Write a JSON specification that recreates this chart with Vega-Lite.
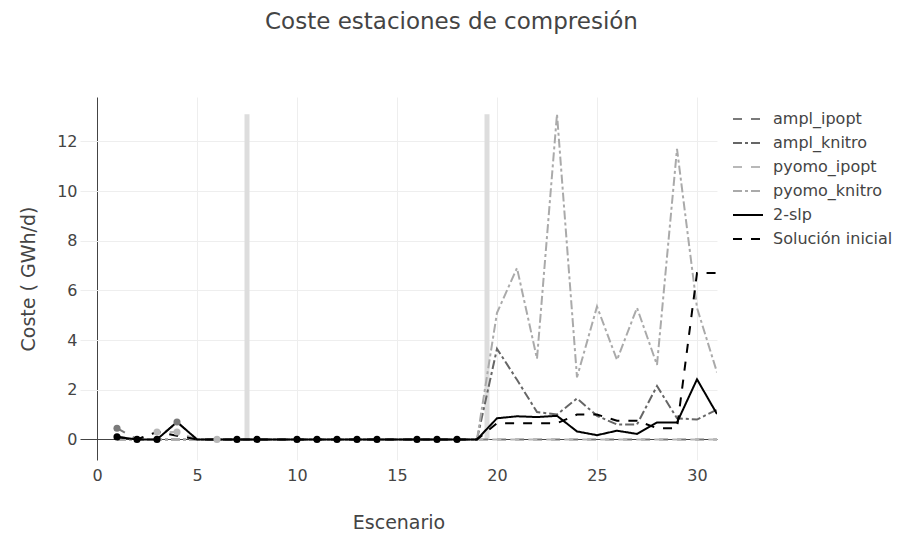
{
  "$schema": "https://vega.github.io/schema/vega-lite/v6.json",
  "width": 637,
  "height": 363,
  "autosize": {"type": "none"},
  "padding": {"left": 80, "top": 97, "right": 187, "bottom": 78},
  "background": "white",
  "config": {
    "font": "DejaVu Sans",
    "view": {"stroke": null},
    "legend": {
      "orient": "none",
      "legendX": 652,
      "legendY": 6,
      "padding": 0,
      "symbolType": "stroke",
      "symbolSize": 900,
      "labelFont": "DejaVu Sans",
      "labelFontSize": 16,
      "labelColor": "#444",
      "labelOffset": 9,
      "rowPadding": -7,
      "title": null
    }
  },
  "title": {
    "text": "Coste estaciones de compresión",
    "font": "DejaVu Sans",
    "fontSize": 23,
    "fontWeight": "normal",
    "color": "#444",
    "anchor": "middle",
    "dx": 53,
    "offset": 63
  },
  "datasets": {
    "bars": [
      {"Escenario": 7.5, "base": 0, "top": 13.1},
      {"Escenario": 19.5, "base": 0, "top": 13.1}
    ],
    "lines": [
      {"Escenario": 1, "serie": "ampl_ipopt", "Coste": 0.45},
      {"Escenario": 2, "serie": "ampl_ipopt", "Coste": 0},
      {"Escenario": 3, "serie": "ampl_ipopt", "Coste": 0},
      {"Escenario": 4, "serie": "ampl_ipopt", "Coste": 0.7},
      {"Escenario": 5, "serie": "ampl_ipopt", "Coste": 0},
      {"Escenario": 6, "serie": "ampl_ipopt", "Coste": 0},
      {"Escenario": 7, "serie": "ampl_ipopt", "Coste": 0},
      {"Escenario": 8, "serie": "ampl_ipopt", "Coste": 0},
      {"Escenario": 9, "serie": "ampl_ipopt", "Coste": 0},
      {"Escenario": 10, "serie": "ampl_ipopt", "Coste": 0},
      {"Escenario": 11, "serie": "ampl_ipopt", "Coste": 0},
      {"Escenario": 12, "serie": "ampl_ipopt", "Coste": 0},
      {"Escenario": 13, "serie": "ampl_ipopt", "Coste": 0},
      {"Escenario": 14, "serie": "ampl_ipopt", "Coste": 0},
      {"Escenario": 15, "serie": "ampl_ipopt", "Coste": 0},
      {"Escenario": 16, "serie": "ampl_ipopt", "Coste": 0},
      {"Escenario": 17, "serie": "ampl_ipopt", "Coste": 0},
      {"Escenario": 18, "serie": "ampl_ipopt", "Coste": 0},
      {"Escenario": 19, "serie": "ampl_ipopt", "Coste": 0},
      {"Escenario": 20, "serie": "ampl_ipopt", "Coste": 0},
      {"Escenario": 21, "serie": "ampl_ipopt", "Coste": 0},
      {"Escenario": 22, "serie": "ampl_ipopt", "Coste": 0},
      {"Escenario": 23, "serie": "ampl_ipopt", "Coste": 0},
      {"Escenario": 24, "serie": "ampl_ipopt", "Coste": 0},
      {"Escenario": 25, "serie": "ampl_ipopt", "Coste": 0},
      {"Escenario": 26, "serie": "ampl_ipopt", "Coste": 0},
      {"Escenario": 27, "serie": "ampl_ipopt", "Coste": 0},
      {"Escenario": 28, "serie": "ampl_ipopt", "Coste": 0},
      {"Escenario": 29, "serie": "ampl_ipopt", "Coste": 0},
      {"Escenario": 30, "serie": "ampl_ipopt", "Coste": 0},
      {"Escenario": 31, "serie": "ampl_ipopt", "Coste": 0},
      {"Escenario": 1, "serie": "ampl_knitro", "Coste": 0},
      {"Escenario": 2, "serie": "ampl_knitro", "Coste": 0},
      {"Escenario": 3, "serie": "ampl_knitro", "Coste": 0},
      {"Escenario": 4, "serie": "ampl_knitro", "Coste": 0},
      {"Escenario": 5, "serie": "ampl_knitro", "Coste": 0},
      {"Escenario": 6, "serie": "ampl_knitro", "Coste": 0},
      {"Escenario": 7, "serie": "ampl_knitro", "Coste": 0},
      {"Escenario": 8, "serie": "ampl_knitro", "Coste": 0},
      {"Escenario": 9, "serie": "ampl_knitro", "Coste": 0},
      {"Escenario": 10, "serie": "ampl_knitro", "Coste": 0},
      {"Escenario": 11, "serie": "ampl_knitro", "Coste": 0},
      {"Escenario": 12, "serie": "ampl_knitro", "Coste": 0},
      {"Escenario": 13, "serie": "ampl_knitro", "Coste": 0},
      {"Escenario": 14, "serie": "ampl_knitro", "Coste": 0},
      {"Escenario": 15, "serie": "ampl_knitro", "Coste": 0},
      {"Escenario": 16, "serie": "ampl_knitro", "Coste": 0},
      {"Escenario": 17, "serie": "ampl_knitro", "Coste": 0},
      {"Escenario": 18, "serie": "ampl_knitro", "Coste": 0},
      {"Escenario": 19, "serie": "ampl_knitro", "Coste": 0},
      {"Escenario": 20, "serie": "ampl_knitro", "Coste": 3.65},
      {"Escenario": 21, "serie": "ampl_knitro", "Coste": 2.4},
      {"Escenario": 22, "serie": "ampl_knitro", "Coste": 1.1},
      {"Escenario": 23, "serie": "ampl_knitro", "Coste": 1.0},
      {"Escenario": 24, "serie": "ampl_knitro", "Coste": 1.65},
      {"Escenario": 25, "serie": "ampl_knitro", "Coste": 0.95},
      {"Escenario": 26, "serie": "ampl_knitro", "Coste": 0.6},
      {"Escenario": 27, "serie": "ampl_knitro", "Coste": 0.6},
      {"Escenario": 28, "serie": "ampl_knitro", "Coste": 2.15},
      {"Escenario": 29, "serie": "ampl_knitro", "Coste": 0.85},
      {"Escenario": 30, "serie": "ampl_knitro", "Coste": 0.8},
      {"Escenario": 31, "serie": "ampl_knitro", "Coste": 1.2},
      {"Escenario": 1, "serie": "pyomo_ipopt", "Coste": 0},
      {"Escenario": 2, "serie": "pyomo_ipopt", "Coste": 0},
      {"Escenario": 3, "serie": "pyomo_ipopt", "Coste": 0.3},
      {"Escenario": 4, "serie": "pyomo_ipopt", "Coste": 0.3},
      {"Escenario": 5, "serie": "pyomo_ipopt", "Coste": 0},
      {"Escenario": 6, "serie": "pyomo_ipopt", "Coste": 0},
      {"Escenario": 7, "serie": "pyomo_ipopt", "Coste": 0},
      {"Escenario": 8, "serie": "pyomo_ipopt", "Coste": 0},
      {"Escenario": 9, "serie": "pyomo_ipopt", "Coste": 0},
      {"Escenario": 10, "serie": "pyomo_ipopt", "Coste": 0},
      {"Escenario": 11, "serie": "pyomo_ipopt", "Coste": 0},
      {"Escenario": 12, "serie": "pyomo_ipopt", "Coste": 0},
      {"Escenario": 13, "serie": "pyomo_ipopt", "Coste": 0},
      {"Escenario": 14, "serie": "pyomo_ipopt", "Coste": 0},
      {"Escenario": 15, "serie": "pyomo_ipopt", "Coste": 0},
      {"Escenario": 16, "serie": "pyomo_ipopt", "Coste": 0},
      {"Escenario": 17, "serie": "pyomo_ipopt", "Coste": 0},
      {"Escenario": 18, "serie": "pyomo_ipopt", "Coste": 0},
      {"Escenario": 19, "serie": "pyomo_ipopt", "Coste": 0},
      {"Escenario": 20, "serie": "pyomo_ipopt", "Coste": 0},
      {"Escenario": 21, "serie": "pyomo_ipopt", "Coste": 0},
      {"Escenario": 22, "serie": "pyomo_ipopt", "Coste": 0},
      {"Escenario": 23, "serie": "pyomo_ipopt", "Coste": 0},
      {"Escenario": 24, "serie": "pyomo_ipopt", "Coste": 0},
      {"Escenario": 25, "serie": "pyomo_ipopt", "Coste": 0},
      {"Escenario": 26, "serie": "pyomo_ipopt", "Coste": 0},
      {"Escenario": 27, "serie": "pyomo_ipopt", "Coste": 0},
      {"Escenario": 28, "serie": "pyomo_ipopt", "Coste": 0},
      {"Escenario": 29, "serie": "pyomo_ipopt", "Coste": 0},
      {"Escenario": 30, "serie": "pyomo_ipopt", "Coste": 0},
      {"Escenario": 31, "serie": "pyomo_ipopt", "Coste": 0},
      {"Escenario": 1, "serie": "pyomo_knitro", "Coste": 0},
      {"Escenario": 2, "serie": "pyomo_knitro", "Coste": 0},
      {"Escenario": 3, "serie": "pyomo_knitro", "Coste": 0},
      {"Escenario": 4, "serie": "pyomo_knitro", "Coste": 0},
      {"Escenario": 5, "serie": "pyomo_knitro", "Coste": 0},
      {"Escenario": 6, "serie": "pyomo_knitro", "Coste": 0},
      {"Escenario": 7, "serie": "pyomo_knitro", "Coste": 0},
      {"Escenario": 8, "serie": "pyomo_knitro", "Coste": 0},
      {"Escenario": 9, "serie": "pyomo_knitro", "Coste": 0},
      {"Escenario": 10, "serie": "pyomo_knitro", "Coste": 0},
      {"Escenario": 11, "serie": "pyomo_knitro", "Coste": 0},
      {"Escenario": 12, "serie": "pyomo_knitro", "Coste": 0},
      {"Escenario": 13, "serie": "pyomo_knitro", "Coste": 0},
      {"Escenario": 14, "serie": "pyomo_knitro", "Coste": 0},
      {"Escenario": 15, "serie": "pyomo_knitro", "Coste": 0},
      {"Escenario": 16, "serie": "pyomo_knitro", "Coste": 0},
      {"Escenario": 17, "serie": "pyomo_knitro", "Coste": 0},
      {"Escenario": 18, "serie": "pyomo_knitro", "Coste": 0},
      {"Escenario": 19, "serie": "pyomo_knitro", "Coste": 0},
      {"Escenario": 20, "serie": "pyomo_knitro", "Coste": 5.1},
      {"Escenario": 21, "serie": "pyomo_knitro", "Coste": 6.9},
      {"Escenario": 22, "serie": "pyomo_knitro", "Coste": 3.25},
      {"Escenario": 23, "serie": "pyomo_knitro", "Coste": 13.1},
      {"Escenario": 24, "serie": "pyomo_knitro", "Coste": 2.5},
      {"Escenario": 25, "serie": "pyomo_knitro", "Coste": 5.35},
      {"Escenario": 26, "serie": "pyomo_knitro", "Coste": 3.2},
      {"Escenario": 27, "serie": "pyomo_knitro", "Coste": 5.3},
      {"Escenario": 28, "serie": "pyomo_knitro", "Coste": 3.0},
      {"Escenario": 29, "serie": "pyomo_knitro", "Coste": 11.7},
      {"Escenario": 30, "serie": "pyomo_knitro", "Coste": 5.3},
      {"Escenario": 31, "serie": "pyomo_knitro", "Coste": 2.7},
      {"Escenario": 1, "serie": "2-slp", "Coste": 0.1},
      {"Escenario": 2, "serie": "2-slp", "Coste": 0},
      {"Escenario": 3, "serie": "2-slp", "Coste": 0},
      {"Escenario": 4, "serie": "2-slp", "Coste": 0.7},
      {"Escenario": 5, "serie": "2-slp", "Coste": 0},
      {"Escenario": 6, "serie": "2-slp", "Coste": 0},
      {"Escenario": 7, "serie": "2-slp", "Coste": 0},
      {"Escenario": 8, "serie": "2-slp", "Coste": 0},
      {"Escenario": 9, "serie": "2-slp", "Coste": 0},
      {"Escenario": 10, "serie": "2-slp", "Coste": 0},
      {"Escenario": 11, "serie": "2-slp", "Coste": 0},
      {"Escenario": 12, "serie": "2-slp", "Coste": 0},
      {"Escenario": 13, "serie": "2-slp", "Coste": 0},
      {"Escenario": 14, "serie": "2-slp", "Coste": 0},
      {"Escenario": 15, "serie": "2-slp", "Coste": 0},
      {"Escenario": 16, "serie": "2-slp", "Coste": 0},
      {"Escenario": 17, "serie": "2-slp", "Coste": 0},
      {"Escenario": 18, "serie": "2-slp", "Coste": 0},
      {"Escenario": 19, "serie": "2-slp", "Coste": 0},
      {"Escenario": 20, "serie": "2-slp", "Coste": 0.85},
      {"Escenario": 21, "serie": "2-slp", "Coste": 0.93},
      {"Escenario": 22, "serie": "2-slp", "Coste": 0.9},
      {"Escenario": 23, "serie": "2-slp", "Coste": 0.95},
      {"Escenario": 24, "serie": "2-slp", "Coste": 0.32},
      {"Escenario": 25, "serie": "2-slp", "Coste": 0.17},
      {"Escenario": 26, "serie": "2-slp", "Coste": 0.35},
      {"Escenario": 27, "serie": "2-slp", "Coste": 0.22},
      {"Escenario": 28, "serie": "2-slp", "Coste": 0.68},
      {"Escenario": 29, "serie": "2-slp", "Coste": 0.68},
      {"Escenario": 30, "serie": "2-slp", "Coste": 2.42},
      {"Escenario": 31, "serie": "2-slp", "Coste": 1.02},
      {"Escenario": 1, "serie": "Solución inicial", "Coste": 0.1},
      {"Escenario": 2, "serie": "Solución inicial", "Coste": 0},
      {"Escenario": 3, "serie": "Solución inicial", "Coste": 0.3},
      {"Escenario": 4, "serie": "Solución inicial", "Coste": 0.15},
      {"Escenario": 5, "serie": "Solución inicial", "Coste": 0},
      {"Escenario": 6, "serie": "Solución inicial", "Coste": 0},
      {"Escenario": 7, "serie": "Solución inicial", "Coste": 0},
      {"Escenario": 8, "serie": "Solución inicial", "Coste": 0},
      {"Escenario": 9, "serie": "Solución inicial", "Coste": 0},
      {"Escenario": 10, "serie": "Solución inicial", "Coste": 0},
      {"Escenario": 11, "serie": "Solución inicial", "Coste": 0},
      {"Escenario": 12, "serie": "Solución inicial", "Coste": 0},
      {"Escenario": 13, "serie": "Solución inicial", "Coste": 0},
      {"Escenario": 14, "serie": "Solución inicial", "Coste": 0},
      {"Escenario": 15, "serie": "Solución inicial", "Coste": 0},
      {"Escenario": 16, "serie": "Solución inicial", "Coste": 0},
      {"Escenario": 17, "serie": "Solución inicial", "Coste": 0},
      {"Escenario": 18, "serie": "Solución inicial", "Coste": 0},
      {"Escenario": 19, "serie": "Solución inicial", "Coste": 0},
      {"Escenario": 20, "serie": "Solución inicial", "Coste": 0.65},
      {"Escenario": 21, "serie": "Solución inicial", "Coste": 0.65},
      {"Escenario": 22, "serie": "Solución inicial", "Coste": 0.65},
      {"Escenario": 23, "serie": "Solución inicial", "Coste": 0.65},
      {"Escenario": 24, "serie": "Solución inicial", "Coste": 1.0},
      {"Escenario": 25, "serie": "Solución inicial", "Coste": 1.0},
      {"Escenario": 26, "serie": "Solución inicial", "Coste": 0.75},
      {"Escenario": 27, "serie": "Solución inicial", "Coste": 0.75},
      {"Escenario": 28, "serie": "Solución inicial", "Coste": 0.45},
      {"Escenario": 29, "serie": "Solución inicial", "Coste": 0.45},
      {"Escenario": 30, "serie": "Solución inicial", "Coste": 6.7},
      {"Escenario": 31, "serie": "Solución inicial", "Coste": 6.7}
    ],
    "markers": [
      {"Escenario": 1, "serie": "ampl_ipopt", "Coste": 0.45},
      {"Escenario": 4, "serie": "ampl_ipopt", "Coste": 0.7},
      {"Escenario": 3, "serie": "pyomo_ipopt", "Coste": 0.3},
      {"Escenario": 4, "serie": "pyomo_ipopt", "Coste": 0.3},
      {"Escenario": 6, "serie": "pyomo_ipopt", "Coste": 0},
      {"Escenario": 1, "serie": "2-slp", "Coste": 0.1},
      {"Escenario": 2, "serie": "2-slp", "Coste": 0},
      {"Escenario": 3, "serie": "2-slp", "Coste": 0},
      {"Escenario": 7, "serie": "2-slp", "Coste": 0},
      {"Escenario": 8, "serie": "2-slp", "Coste": 0},
      {"Escenario": 10, "serie": "2-slp", "Coste": 0},
      {"Escenario": 11, "serie": "2-slp", "Coste": 0},
      {"Escenario": 12, "serie": "2-slp", "Coste": 0},
      {"Escenario": 13, "serie": "2-slp", "Coste": 0},
      {"Escenario": 14, "serie": "2-slp", "Coste": 0},
      {"Escenario": 16, "serie": "2-slp", "Coste": 0},
      {"Escenario": 17, "serie": "2-slp", "Coste": 0},
      {"Escenario": 18, "serie": "2-slp", "Coste": 0}
    ]
  },
  "encoding": {
    "x": {
      "field": "Escenario",
      "type": "quantitative",
      "scale": {"domain": [-0.85, 31], "nice": false, "zero": false},
      "axis": {
        "title": "Escenario",
        "values": [0, 5, 10, 15, 20, 25, 30],
        "grid": true,
        "gridColor": {"condition": {"test": "datum.value === 0", "value": "#444444"}, "value": "#eeeeee"},
        "gridWidth": 1,
        "domain": false,
        "ticks": false,
        "labelFont": "DejaVu Sans",
        "labelFontSize": 16,
        "labelColor": "#444",
        "labelPadding": 7,
        "titleFont": "DejaVu Sans",
        "titleFontSize": 19,
        "titleColor": "#444",
        "titleFontWeight": "normal",
        "titlePadding": 30
      }
    },
    "y": {
      "field": "Coste",
      "type": "quantitative",
      "scale": {"domain": [-0.83, 13.79], "nice": false, "zero": false},
      "axis": {
        "title": "Coste ( GWh/d)",
        "values": [0, 2, 4, 6, 8, 10, 12],
        "grid": true,
        "gridColor": {"condition": {"test": "datum.value === 0", "value": "#444444"}, "value": "#eeeeee"},
        "gridWidth": 1,
        "domain": false,
        "ticks": false,
        "labelFont": "DejaVu Sans",
        "labelFontSize": 16,
        "labelColor": "#444",
        "labelPadding": 3,
        "titleFont": "DejaVu Sans",
        "titleFontSize": 19,
        "titleColor": "#444",
        "titleFontWeight": "normal",
        "titlePadding": 18
      }
    }
  },
  "layer": [
    {
      "data": {"name": "bars"},
      "mark": {"type": "rule", "color": "#dddddd", "strokeWidth": 5},
      "encoding": {
        "y": {"field": "base", "type": "quantitative"},
        "y2": {"field": "top"}
      }
    },
    {
      "data": {"name": "lines"},
      "mark": {"type": "line", "clip": true},
      "encoding": {
        "color": {
          "field": "serie",
          "type": "nominal",
          "legend": {"symbolType": "stroke"},
          "scale": {
            "domain": ["ampl_ipopt", "ampl_knitro", "pyomo_ipopt", "pyomo_knitro", "2-slp", "Solución inicial"],
            "range": ["#7a7a7a", "#666666", "#b8b8b8", "#aaaaaa", "#000000", "#000000"]
          }
        },
        "strokeDash": {
          "field": "serie",
          "type": "nominal",
          "scale": {
            "domain": ["ampl_ipopt", "ampl_knitro", "pyomo_ipopt", "pyomo_knitro", "2-slp", "Solución inicial"],
            "range": [[9, 9], [9, 3, 3, 3], [9, 9], [9, 3, 3, 3], [1, 0], [9, 9]]
          }
        },
        "strokeWidth": {
          "field": "serie",
          "type": "nominal",
          "scale": {
            "domain": ["ampl_ipopt", "ampl_knitro", "pyomo_ipopt", "pyomo_knitro", "2-slp", "Solución inicial"],
            "range": [2, 2, 2, 2, 2.5, 2.5]
          }
        }
      }
    },
    {
      "data": {"name": "markers"},
      "transform": [{"filter": "datum.serie === 'ampl_ipopt'"}],
      "mark": {"type": "point", "filled": true, "size": 50, "opacity": 1, "color": "#7a7a7a"}
    },
    {
      "data": {"name": "markers"},
      "transform": [{"filter": "datum.serie === 'pyomo_ipopt'"}],
      "mark": {"type": "point", "filled": true, "size": 50, "opacity": 1, "color": "#b8b8b8"}
    },
    {
      "data": {"name": "markers"},
      "transform": [{"filter": "datum.serie === '2-slp'"}],
      "mark": {"type": "point", "filled": true, "size": 50, "opacity": 1, "color": "#000000"}
    }
  ]
}
